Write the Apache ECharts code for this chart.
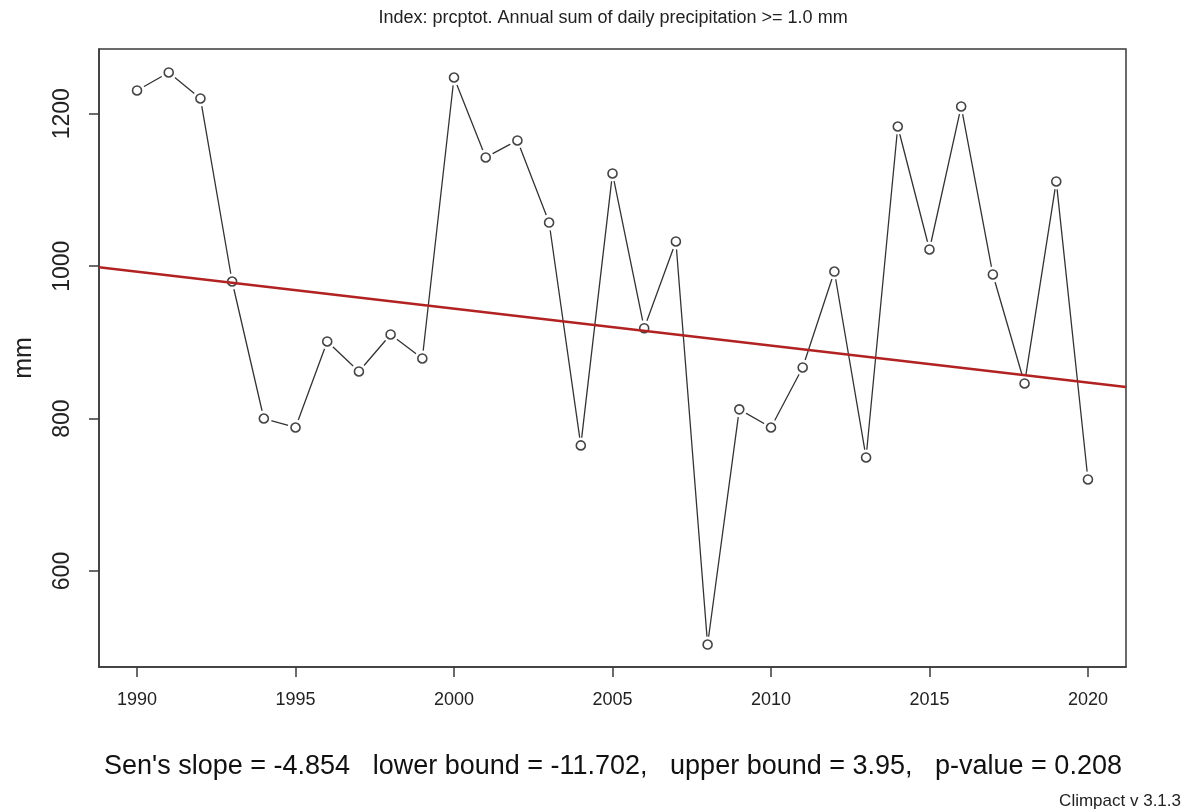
<!DOCTYPE html>
<html>
<head>
<meta charset="utf-8">
<title>prcptot</title>
<script src="https://cdn.jsdelivr.net/npm/echarts@6/dist/echarts.min.js"></script>
<style>
  html, body { margin: 0; padding: 0; background: #fff; }
  #chart { width: 1188px; height: 812px; }
</style>
</head>
<body>
<div id="chart"></div>
<script>
// Annual total precipitation (mm), 1990-2020
const years = [1990, 1991, 1992, 1993, 1994, 1995, 1996, 1997, 1998, 1999,
               2000, 2001, 2002, 2003, 2004, 2005, 2006, 2007, 2008, 2009,
               2010, 2011, 2012, 2013, 2014, 2015, 2016, 2017, 2018, 2019, 2020];
const prcptot = [1230.6, 1254.2, 1220.1, 979.9, 800.1, 788.3, 901.2, 861.8, 910.4, 878.9,
                 1247.6, 1142.7, 1165.0, 1057.3, 764.8, 1121.7, 918.6, 1032.4, 503.5, 812.1,
                 788.3, 867.1, 993.0, 749.0, 1183.3, 1021.9, 1209.6, 989.1, 846.1, 1111.2, 720.1];

// Sen's slope trend line, end points at the plot edges
const trendYears = [1988.8, 2021.2];
const trendValues = [998.7, 841.4];

const xTicks = [1990, 1995, 2000, 2005, 2010, 2015, 2020];
const yTicks = [600, 800, 1000, 1200];

const titleText = 'Index: prcptot. Annual sum of daily precipitation >= 1.0 mm';
const statsText = "Sen's slope = -4.854   lower bound = -11.702,   upper bound = 3.95,   p-value = 0.208";
const creditText = 'Climpact v 3.1.3';

const points = years.map((y, i) => [y, prcptot[i]]);
const trend = trendYears.map((y, i) => [y, trendValues[i]]);

const FONT = '"Liberation Sans", Arial, sans-serif';
const plain = v => String(v);
const chart = echarts.init(document.getElementById('chart'), null, { renderer: 'canvas' });

chart.setOption({
  animation: false,
  backgroundColor: '#fff',
  textStyle: { fontFamily: FONT },
  grid: {
    left: 99, right: 62, top: 49, bottom: 145,
    containLabel: false, outerBoundsMode: 'none',
    show: true, borderColor: '#3a3a3a', borderWidth: 1.5, backgroundColor: 'transparent'
  },
  xAxis: {
    type: 'value', min: 1988.8, max: 2021.2,
    splitLine: { show: false },
    axisLine: { show: true, lineStyle: { color: '#3a3a3a', width: 1.5 } },
    axisTick: { show: true, customValues: xTicks, length: 10, lineStyle: { color: '#3a3a3a', width: 1.5 } },
    axisLabel: { customValues: xTicks, formatter: plain, fontSize: 18, color: '#222', margin: 24, fontFamily: FONT }
  },
  yAxis: {
    type: 'value', min: 474, max: 1285,
    name: 'mm', nameLocation: 'middle', nameRotate: 90, nameGap: 62,
    nameTextStyle: { fontSize: 25, color: '#222', fontFamily: FONT },
    splitLine: { show: false },
    axisLine: { show: true, lineStyle: { color: '#3a3a3a', width: 1.5 } },
    axisTick: { show: true, customValues: yTicks, length: 10, lineStyle: { color: '#3a3a3a', width: 1.5 } },
    axisLabel: { customValues: yTicks, formatter: plain, rotate: 90, fontSize: 23, color: '#222', margin: 25, fontFamily: FONT }
  },
  series: [
    {
      type: 'line', data: points, showSymbol: false, z: 2,
      lineStyle: { color: '#333', width: 1.3 }
    },
    {
      // white discs open a small gap in the line around each point
      type: 'scatter', data: points, symbol: 'circle', symbolSize: 16, z: 3,
      itemStyle: { color: '#fff', opacity: 1 }, silent: true
    },
    {
      type: 'scatter', data: points, symbol: 'circle', symbolSize: 9, z: 4,
      itemStyle: { color: '#fff', borderColor: '#444', borderWidth: 1.6, opacity: 1 }
    },
    {
      type: 'line', data: trend, showSymbol: false, z: 5,
      lineStyle: { color: '#b22222', width: 2.6 }
    }
  ],
  graphic: [
    {
      type: 'text', x: 613, y: 18, z: 10,
      style: { text: titleText, font: '18px ' + FONT, fill: '#222', textAlign: 'center', textVerticalAlign: 'middle' }
    },
    {
      type: 'text', x: 613, y: 767, z: 10,
      style: { text: statsText, font: '27px ' + FONT, fill: '#111', textAlign: 'center', textVerticalAlign: 'middle' }
    },
    {
      type: 'text', x: 1181, y: 801, z: 10,
      style: { text: creditText, font: '17px ' + FONT, fill: '#222', textAlign: 'right', textVerticalAlign: 'middle' }
    }
  ]
});
</script>
</body>
</html>
